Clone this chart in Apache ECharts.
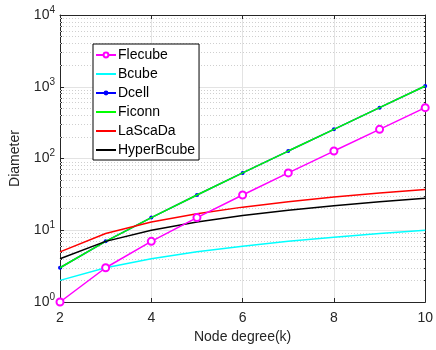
<!DOCTYPE html>
<html>
<head>
<meta charset="utf-8">
<script src="https://cdn.jsdelivr.net/npm/echarts@6/dist/echarts.min.js"></script>
<style>html,body{margin:0;padding:0;background:#fff;}#c{width:436px;height:350px;}</style>
</head>
<body>
<div id="c"></div>
<script>
var degrees = [2, 3, 4, 5, 6, 7, 8, 9, 10];
var flecube = [1, 3, 7, 15, 31, 63, 127, 255, 511];
var bcube = [2, 3, 4, 5, 6, 7, 8, 9, 10];
var dcell = [3, 7, 15, 31, 63, 127, 255, 511, 1023];
var ficonn = [3, 7, 15, 31, 63, 127, 255, 511, 1023];
var lascada = [5, 9, 13, 17, 21, 25, 29, 33, 37];
var hyperbcube = [4, 7, 10, 13, 16, 19, 22, 25, 28];
var minorGridValues = [2,3,4,5,6,7,8,9,20,30,40,50,60,70,80,90,200,300,400,500,600,700,800,900,2000,3000,4000,5000,6000,7000,8000,9000];

function pairs(ys){ return degrees.map(function(x,i){ return [x, ys[i]]; }); }
var FONT = '"Liberation Sans", Arial, sans-serif';
var axisColor = '#262626';
var tickCommon = {show: true, inside: true, length: 4, lineStyle: {color: axisColor}};
var minorTickCommon = {show: true, splitNumber: 9, length: 2, lineStyle: {color: axisColor, width: 1}};

var chart = echarts.init(document.getElementById('c'));
chart.setOption({
  animation: false,
  backgroundColor: '#fff',
  textStyle: {fontFamily: FONT},
  grid: {left: 57, right: 7, top: 15, bottom: 48, containLabel: false},
  legend: {
    orient: 'vertical', left: 93, top: 44,
    backgroundColor: '#fff', borderColor: '#000', borderWidth: 1,
    padding: [4, 4, 3, 2], itemGap: 5, itemWidth: 20, itemHeight: 6,
    textStyle: {fontFamily: FONT, fontSize: 14, color: '#000', padding: [0,0,0,-3]},
    data: [
      {name: 'Flecube'},
      {name: 'Bcube', itemStyle: {opacity: 0}},
      {name: 'Dcell'},
      {name: 'Ficonn', itemStyle: {opacity: 0}},
      {name: 'LaScaDa', itemStyle: {opacity: 0}},
      {name: 'HyperBcube', itemStyle: {opacity: 0}}
    ]
  },
  xAxis: [{
    type: 'value', min: 2, max: 10, interval: 2,
    name: 'Node degree(k)', nameLocation: 'middle', nameGap: 28,
    nameTextStyle: {fontFamily: FONT, fontSize: 14, color: '#262626'},
    axisLine: {show: true, lineStyle: {color: axisColor, width: 1}},
    axisTick: tickCommon,
    axisLabel: {fontFamily: FONT, fontSize: 14, color: '#262626', margin: 9},
    splitLine: {show: true, lineStyle: {color: '#e3e3e3', width: 1}}
  }, {
    type: 'value', min: 2, max: 10, interval: 2, position: 'top',
    axisLine: {show: true, lineStyle: {color: axisColor, width: 1}},
    axisTick: tickCommon,
    axisLabel: {show: false}, splitLine: {show: false}
  }],
  yAxis: [{
    type: 'log', logBase: 10, min: 1, max: 10000,
    name: 'Diameter', nameLocation: 'middle', nameGap: 38,
    nameTextStyle: {fontFamily: FONT, fontSize: 14, color: '#262626'},
    axisLine: {show: true, lineStyle: {color: axisColor, width: 1}},
    axisTick: tickCommon,
    minorTick: minorTickCommon,
    splitLine: {show: true, lineStyle: {color: '#e3e3e3', width: 1}},
    axisLabel: {
      margin: 5,
      formatter: function(v){ var e = Math.round(Math.log10(v)); return '{b|10}{s|' + e + '}'; },
      rich: {
        b: {fontFamily: FONT, fontSize: 14, color: '#262626'},
        s: {fontFamily: FONT, fontSize: 10, color: '#262626', padding: [0, 0, 10, 0]}
      }
    }
  }, {
    type: 'log', logBase: 10, min: 1, max: 10000, position: 'right',
    axisLine: {show: true, lineStyle: {color: axisColor, width: 1}},
    axisTick: tickCommon,
    minorTick: minorTickCommon,
    axisLabel: {show: false}, splitLine: {show: false}
  }],
  series: [
    {name: 'Flecube', type: 'line', data: pairs(flecube), z: 6,
     symbol: 'emptyCircle', symbolSize: 7, showAllSymbol: true,
     lineStyle: {color: '#ff00ff', width: 1.5},
     itemStyle: {color: '#ff00ff', borderColor: '#ff00ff', borderWidth: 1.5},
     markLine: {silent: true, symbol: 'none', label: {show: false}, z: 1,
       lineStyle: {color: '#cfcfcf', type: [1, 2], width: 1},
       data: minorGridValues.map(function(v){ return {yAxis: v}; })}
    },
    {name: 'Bcube', type: 'line', data: pairs(bcube), symbol: 'none', z: 3,
     lineStyle: {color: '#00ffff', width: 1.5}, itemStyle: {color: '#00ffff'}},
    {name: 'Dcell', type: 'line', data: pairs(dcell), z: 3,
     symbol: 'circle', symbolSize: 4, showAllSymbol: true,
     lineStyle: {color: '#0000ff', width: 1.5}, itemStyle: {color: '#0000ff'}},
    {name: 'Ficonn', type: 'line', data: pairs(ficonn), symbol: 'none', z: 4,
     lineStyle: {color: '#00ff00', width: 1.5}, itemStyle: {color: '#00ff00'}},
    {name: 'LaScaDa', type: 'line', data: pairs(lascada), symbol: 'none', z: 4,
     lineStyle: {color: '#ff0000', width: 1.5}, itemStyle: {color: '#ff0000'}},
    {name: 'HyperBcube', type: 'line', data: pairs(hyperbcube), symbol: 'none', z: 4,
     lineStyle: {color: '#000000', width: 1.5}, itemStyle: {color: '#000000'}}
  ]
});
</script>
</body>
</html>
